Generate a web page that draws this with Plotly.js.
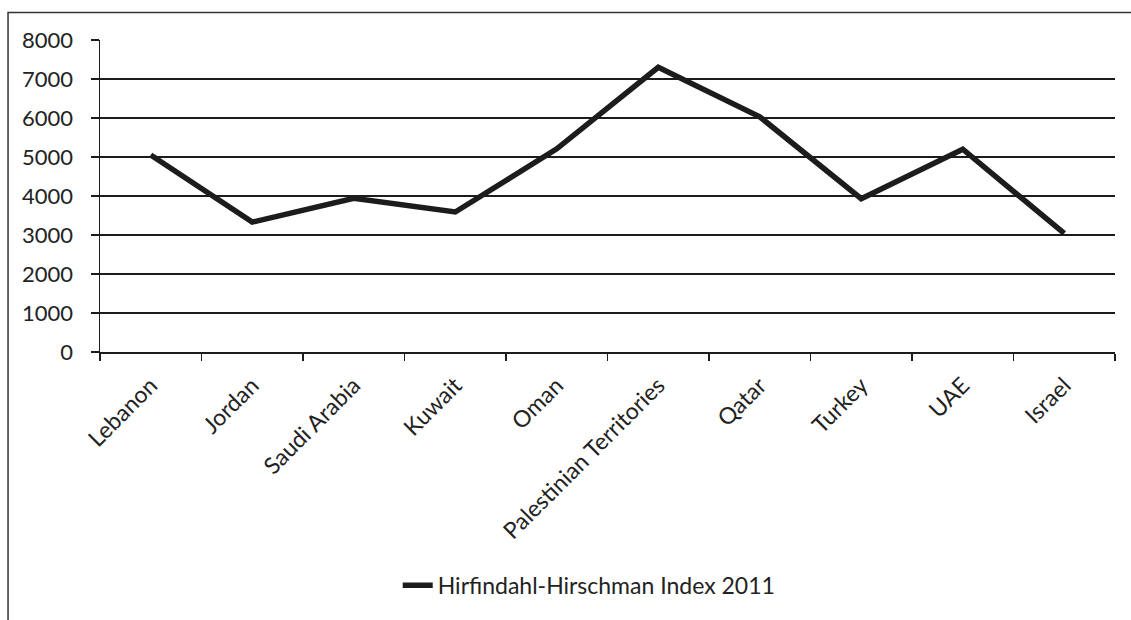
<!DOCTYPE html>
<html>
<head>
<meta charset="utf-8">
<script src="https://cdn.plot.ly/plotly-3.0.1.min.js"></script>
<style>
  html, body { margin: 0; padding: 0; background: #fff; }
  #chart { width: 1131px; height: 620px; }
</style>
</head>
<body>
<div id="chart"></div>
<script>
// Hirfindahl-Hirschman Index by country, 2011
const countries = ["Lebanon", "Jordan", "Saudi Arabia", "Kuwait", "Oman",
  "Palestinian Territories", "Qatar", "Turkey", "UAE", "Israel"];
const hhi2011 = [5050, 3330, 3940, 3590, 5210, 7300, 6030, 3930, 5200, 3040];
const yTicks = [0, 1000, 2000, 3000, 4000, 5000, 6000, 7000, 8000];
const seriesName = "Hirfindahl-Hirschman Index 2011";

const ink = "#1c1c1c";
const family = "Lato, 'Open Sans', sans-serif";

const trace = {
  type: "scatter",
  mode: "lines",
  x: countries,
  y: hhi2011,
  name: seriesName,
  line: { color: ink, width: 5.5 },
  showlegend: true
};

const layout = {
  width: 1131,
  height: 620,
  margin: { l: 100, r: 16, t: 40, b: 268 },
  paper_bgcolor: "#fff",
  plot_bgcolor: "#fff",
  font: { family: family, size: 22, color: "#222" },
  showlegend: true,
  legend: {
    orientation: "h",
    x: 0.482, xanchor: "center",
    y: -0.748, yanchor: "middle",
    font: { family: family, size: 23, color: "#222" },
    bgcolor: "rgba(0,0,0,0)"
  },
  xaxis: {
    type: "category",
    range: [-0.5, countries.length - 0.5],
    tickangle: -45,
    tickson: "boundaries",
    ticks: "outside",
    ticklen: 7,
    tickwidth: 1.5,
    tickcolor: ink,
    ticklabelstandoff: 9,
    showline: true,
    linecolor: ink,
    linewidth: 2,
    showgrid: false,
    zeroline: false,
    tickfont: { family: family, size: 23, color: "#222" },
    fixedrange: true
  },
  yaxis: {
    range: [0, 8000],
    tickvals: yTicks,
    ticktext: yTicks.map(String),
    ticks: "outside",
    ticklen: 8,
    tickwidth: 1.5,
    tickcolor: ink,
    ticklabelstandoff: 13,
    showline: true,
    linecolor: ink,
    linewidth: 1.5,
    showgrid: true,
    gridcolor: ink,
    gridwidth: 1.8,
    zeroline: false,
    tickfont: { family: family, size: 22, color: "#222" },
    fixedrange: true
  },
  shapes: [{
    type: "rect",
    xref: "paper", yref: "paper",
    x0: -0.0906, x1: 1.2,
    y0: -1.2, y1: 1.088,
    line: { color: "#333", width: 1.5 },
    fillcolor: "rgba(0,0,0,0)",
    layer: "below"
  }]
};

Plotly.newPlot("chart", [trace], layout, { staticPlot: true, displayModeBar: false });
</script>
</body>
</html>
